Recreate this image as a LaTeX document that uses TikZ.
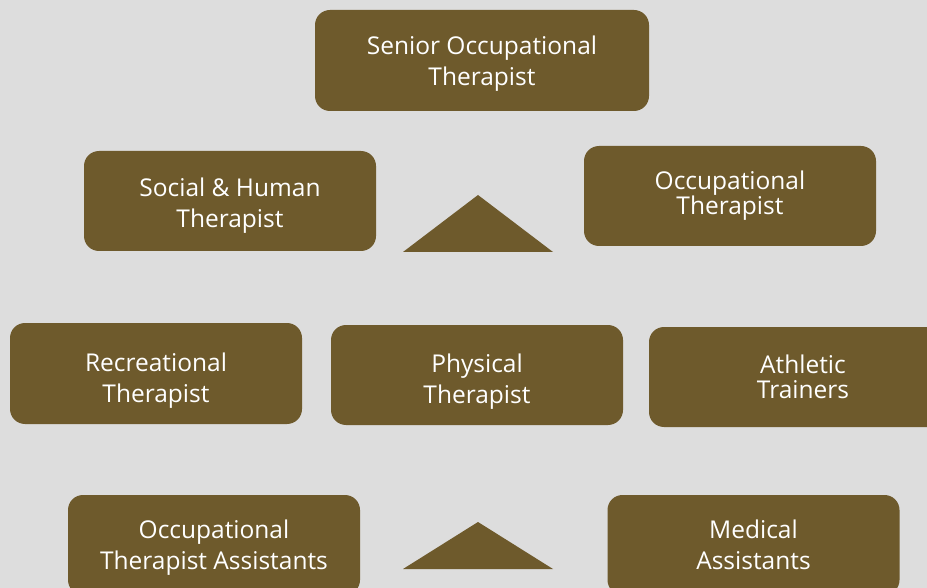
\documentclass[tikz,border=0pt]{standalone}
\usepackage{fontspec}
\setmainfont{Open Sans}
\definecolor{boxbrown}{RGB}{110,90,44}
\definecolor{bggray}{RGB}{221,221,221}

\begin{document}
\begin{tikzpicture}[x=1pt,y=-1pt,
  every node/.style={align=center,text=white,font=\fontsize{24.5}{31}\selectfont},
  rolebox/.style={fill=boxbrown,rounded corners=15pt,inner sep=0pt,
    minimum width=292pt,minimum height=100pt},
  boxtext/.style 2 args={label={[yshift=-#1pt]center:{#2}}},
  tightboxtext/.style 2 args={label={[yshift=-#1pt,
    font=\fontsize{24.5}{25}\selectfont]center:{#2}}}]
\fill [bggray] (0,0) rectangle (927,588);
\useasboundingbox (0,0) rectangle (927,588);
\clip (0,0) rectangle (927,588);

% top row
\node (senior) [rolebox,minimum width=334pt,minimum height=101pt,
  boxtext={3}{Senior Occupational\\Therapist}] at (482,60.5) {};
\node (social) [rolebox,boxtext={5}{Social \& Human\\Therapist}] at (230,201) {};
\node (occup) [rolebox,tightboxtext={-0.5}{Occupational\\Therapist}] at (730,196) {};

% middle row
\node (recre) [rolebox,minimum height=101pt,boxtext={7}{Recreational\\Therapist}]
  at (156,373.5) {};
\node (physic) [rolebox,boxtext={7}{Physical\\Therapist}] at (477,375) {};
\node (athlet) [rolebox,minimum width=308pt,
  tightboxtext={0}{Athletic\\Trainers}] at (803,377) {};

% bottom row
\node (otassist) [rolebox,boxtext={2.5}{Occupational\\Therapist Assistants}]
  at (214,545) {};
\node (medic) [rolebox,boxtext={0}{Medical\\Assistants}] at (753.5,545) {};

% triangles
\foreach \ty/\by in {195/252,522/569}
  \fill [boxbrown] (478,\ty) -- (553,\by) -- (403,\by) -- cycle ;
\end{tikzpicture}
\end{document}
